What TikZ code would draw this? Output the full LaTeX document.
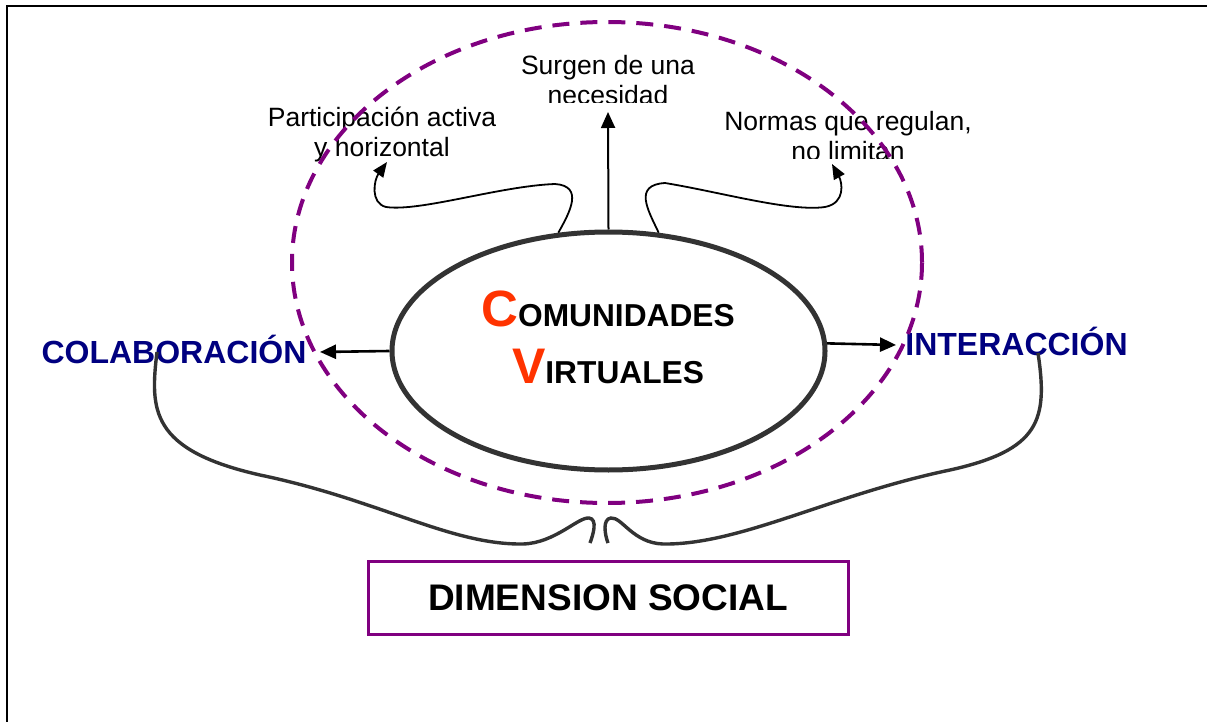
\documentclass[tikz,border=0pt]{standalone}
\usepackage{fontspec}
\setmainfont{Liberation Sans}
\usetikzlibrary{shapes.geometric,arrows.meta}
\definecolor{cpurple}{HTML}{800080}
\definecolor{cnavy}{HTML}{000080}
\definecolor{cred}{HTML}{FF3300}
\definecolor{cgray}{HTML}{333333}
\newcommand{\twolines}[2]{\begin{tabular}[t]{@{}c@{}}#1\\#2\end{tabular}}
\begin{document}
\begin{tikzpicture}[x=1pt,y=-1pt,
  smalltext/.style={font=\fontsize{26.5}{30}\selectfont, inner sep=0pt, anchor=base},
  bluetext/.style={font=\fontsize{32}{36}\selectfont\bfseries, text=cnavy, inner sep=0pt, anchor=base},
  arr/.style={-{Triangle[length=16pt,width=14pt]}, line width=2.6pt},
  curl/.style={-{Triangle[length=15pt,width=12pt]}, line width=1.8pt},
  bracestyle/.style={line width=3.4pt, draw=cgray},
  cvline/.style={font=\bfseries, inner sep=0pt, anchor=base}
]
\useasboundingbox (0,0) rectangle (1207,722);
\draw[line width=2pt] (7,6.3) rectangle (1225,740);

% top texts
\begin{scope}
  \clip (450,40) rectangle (770,103);
  \node[smalltext] (surgen) at (608,75) {\twolines{Surgen de una}{necesidad}};
\end{scope}
\node[smalltext] (partic) at (382,127) {\twolines{Participación activa}{y horizontal}};
\begin{scope}
  \clip (700,100) rectangle (1000,159);
  \node[smalltext] (normas) at (848,131) {\twolines{Normas que regulan,}{no limitan}};
\end{scope}

% central ellipse
\node[ellipse, draw=cgray, line width=5pt, fill=white, minimum width=433pt, minimum height=238pt, inner sep=0pt] (cv) at (608.5,351) {};
\node[cvline] (cv1) at (608,326) {{\fontsize{51}{55}\selectfont\color{cred}C}{\fontsize{31.7}{36}\selectfont OMUNIDADES}};
\node[cvline] (cv2) at (608,383) {{\fontsize{50}{55}\selectfont\color{cred}V}{\fontsize{31.7}{36}\selectfont IRTUALES}};

% side labels
\node[bluetext] (colab) at (174,363) {COLABORACIÓN};
\node[bluetext] (inter) at (1016.5,355) {INTERACCIÓN};

% bottom box
\node[draw=cpurple, line width=3pt, minimum width=480pt, minimum height=73pt, inner sep=0pt,
      font=\fontsize{37}{40}\selectfont\bfseries] (dim) at (608,597.5) {DIMENSION SOCIAL};

% coordinates
\coordinate (tipS) at (608,112);
\coordinate (tipL) at (320,352);
\coordinate (tipR) at (896,345);
\coordinate (tipP) at (387,162);
\coordinate (tipN) at (832,164);
\coordinate (bl) at (157,352);
\coordinate (br) at (1038,353);
\coordinate (bml) at (590,543);
\coordinate (bmr) at (608,543);

% arrows
\draw[arr, line width=2pt] (cv.north) -- (tipS);
\draw[arr] (cv.west) -- (tipL);
\draw[arr] (cv.2) -- (tipR);

% curly arrows
\draw[curl] (cv.113) .. controls (570,212) and (584,186) .. (555,184)
  .. controls (500,186) and (420,212) .. (386,207)
  .. controls (370,203) and (374,180) .. (tipP);
\draw[curl] (cv.67) .. controls (648,210) and (633,185) .. (665,183)
  .. controls (720,192) and (790,212) .. (825,207)
  .. controls (846,203) and (842,182) .. (tipN);

% braces
\draw[bracestyle] (bl) .. controls (150,410) and (150,450) .. (260,475)
  .. controls (380,500) and (450,545) .. (523,544)
  .. controls (555,543) and (578,517) .. (589,518)
  .. controls (598,519) and (593,535) .. (bml);
\draw[bracestyle] (br) .. controls (1048,420) and (1040,450) .. (950,470)
  .. controls (830,495) and (740,545) .. (663,544)
  .. controls (633,543) and (622,517) .. (611,518)
  .. controls (602,519) and (605,535) .. (bmr);

% dashed outer ellipse
\node[ellipse, draw=cpurple, line width=4pt, dash pattern=on 17pt off 11pt, minimum width=630pt, minimum height=481pt, inner sep=0pt] (outer) at (607,262.5) {};
\end{tikzpicture}
\end{document}
